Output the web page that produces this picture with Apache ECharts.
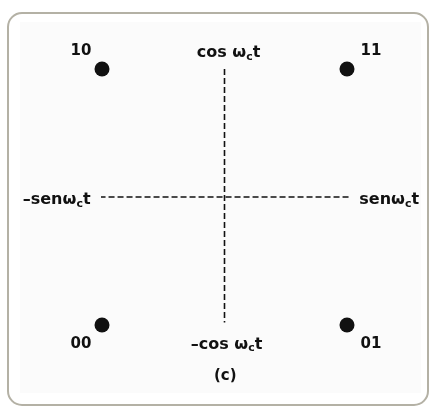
<!DOCTYPE html>
<html>
<head>
<meta charset="utf-8">
<script src="https://cdn.jsdelivr.net/npm/echarts@6/dist/echarts.min.js"></script>
<style>
  html, body { margin: 0; padding: 0; background: #fff; }
  #main { width: 430px; height: 408px; }
</style>
</head>
<body>
<div id="main"></div>
<script>
// 星座图数据 (QPSK)
const symbolNames = ['10', '11', '00', '01'];
const iValues = [-1, 1, -1, 1];
const qValues = [1, 1, -1, -1];
// 符号标签偏移 (像素)
const symbolOffsets = [[-21, -18], [24, -18], [-21, 19], [24, 19]];

// 坐标轴虚线范围
const hAxisX = [-1.02, 1.06];
const vAxisY = [1, -0.98];

// 坐标轴标签
const axisLabelNames = ['cos', '–cos', '–sen', 'sen'];
const axisLabelX = [0, 0, -1.02, 1.06];
const axisLabelY = [1, -0.98, 0, 0];

const FONT = '"DejaVu Sans", sans-serif';
const TXT = '#111111';

const rich = {
  b: { fontFamily: FONT, fontWeight: 'bold', fontSize: 16, color: TXT, lineHeight: 16, verticalAlign: 'top' },
  s: { fontFamily: FONT, fontWeight: 'bold', fontSize: 11, color: TXT, lineHeight: 24 }
};

function omegaLabel(prefix, spaced) {
  return '{b|' + prefix + (spaced ? ' ' : '') + 'ω}{s|c}{b|t}';
}

// 轴标签的位置设置
const axisLabelCfg = [
  { position: 'top', offset: [4, 5] },
  { position: 'bottom', offset: [2, 9] },
  { position: 'left', offset: [-4, 7] },
  { position: 'right', offset: [0, 7] }
];

const axisLabelData = axisLabelNames.map((n, i) => ({
  value: [axisLabelX[i], axisLabelY[i]],
  label: {
    show: true,
    position: axisLabelCfg[i].position,
    offset: axisLabelCfg[i].offset,
    formatter: omegaLabel(n, i < 2),
    rich: rich
  }
}));

const pointData = symbolNames.map((n, i) => ({
  value: [iValues[i], qValues[i]],
  name: n,
  label: {
    show: true,
    position: 'inside',
    offset: symbolOffsets[i],
    formatter: n,
    fontFamily: FONT,
    fontWeight: 'bold',
    fontSize: 15,
    color: TXT
  }
}));

const chart = echarts.init(document.getElementById('main'), null, { renderer: 'canvas' });

const option = {
  backgroundColor: '#ffffff',
  animation: false,
  grid: { left: 102, right: 83, top: 69, bottom: 83 },
  xAxis: { type: 'value', min: -1, max: 1, show: false },
  yAxis: { type: 'value', min: -1, max: 1, show: false },
  graphic: [
    {
      type: 'rect', z: -10,
      shape: { x: 8, y: 13, width: 420, height: 392, r: 14 },
      style: { fill: '#ffffff', stroke: '#b4b1a5', lineWidth: 2 }
    },
    {
      type: 'rect', z: -9,
      shape: { x: 20, y: 22, width: 401, height: 371 },
      style: { fill: '#fbfbfb' }
    },
    {
      type: 'text', z: 5, left: 214, top: 369,
      style: { text: '(c)', font: 'bold 15px ' + FONT, fill: TXT }
    }
  ],
  series: [
    {
      type: 'line',
      data: [[hAxisX[0], 0], [hAxisX[1], 0]],
      symbol: 'none',
      silent: true,
      clip: false,
      lineStyle: { color: '#111', width: 1.6, type: [6, 3] }
    },
    {
      type: 'line',
      data: [[0, vAxisY[0]], [0, vAxisY[1]]],
      symbol: 'none',
      silent: true,
      clip: false,
      lineStyle: { color: '#111', width: 1.6, type: [6, 3] }
    },
    {
      type: 'scatter',
      data: axisLabelData,
      symbolSize: 0,
      silent: true,
      clip: false,
      itemStyle: { opacity: 1 }
    },
    {
      type: 'scatter',
      data: pointData,
      symbol: 'circle',
      symbolSize: 15,
      itemStyle: { color: '#111111', opacity: 1 },
      clip: false,
      z: 5
    }
  ]
};

chart.setOption(option);
</script>
</body>
</html>
